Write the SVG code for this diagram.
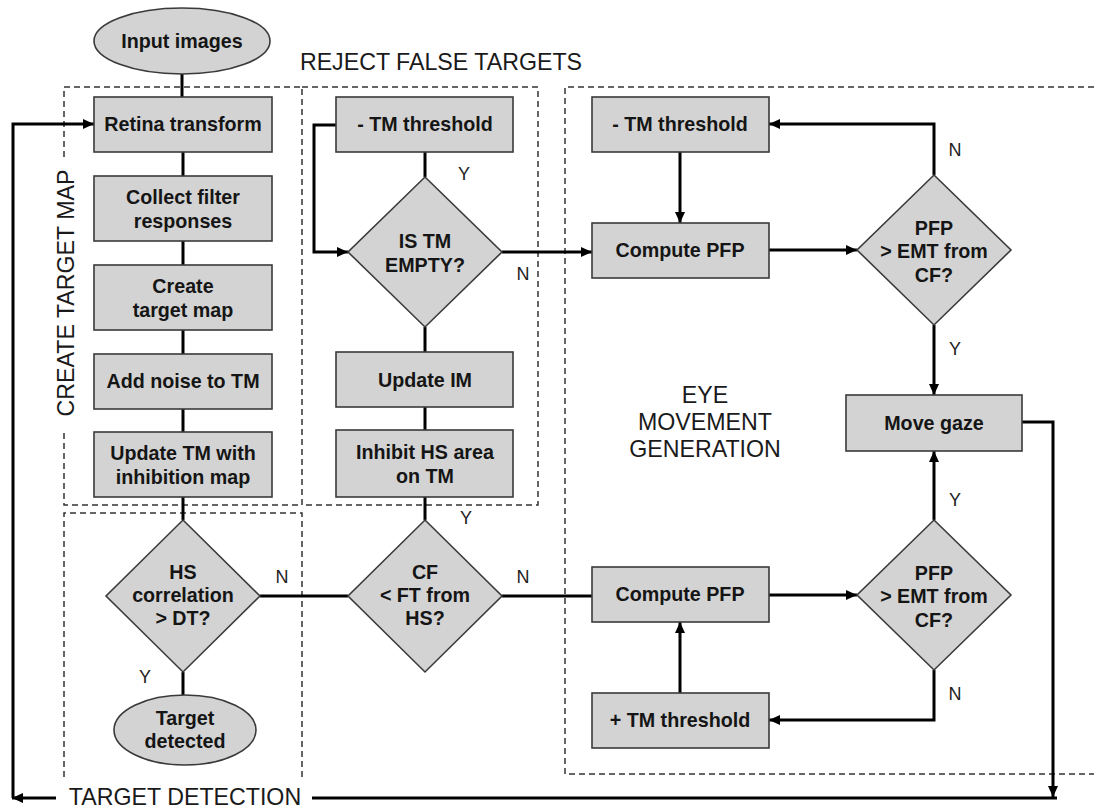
<svg xmlns="http://www.w3.org/2000/svg" width="1094" height="808" viewBox="0 0 1094 808">
<style>
.box{fill:#d3d3d3;stroke:#3a3a3a;stroke-width:1.6}
.t{font-family:"Liberation Sans",Arial,sans-serif;font-weight:bold;font-size:19.7px;fill:#151515;text-anchor:middle}
.yn{font-family:"Liberation Sans",Arial,sans-serif;font-size:18px;fill:#222;text-anchor:middle}
.sec{font-family:"Liberation Sans",Arial,sans-serif;font-size:23.2px;fill:#1a1a1a;text-anchor:middle}
.dash{fill:none;stroke:#333;stroke-width:1.5;stroke-dasharray:6 4}
.c{fill:none;stroke:#000;stroke-width:3}
.ca{fill:none;stroke:#000;stroke-width:3;marker-end:url(#ah)}
</style>
<defs>
<marker id="ah" markerUnits="userSpaceOnUse" markerWidth="12" markerHeight="10" refX="11" refY="5" orient="auto">
<path d="M0,0 L11,5 L0,10 z" fill="#000"/>
</marker>
</defs>

<g id="sections">
<path class="dash" d="M64,157 V87 H302 V505 H64 V430"/>
<path class="dash" d="M302,87 H538 V505 H302"/>
<path class="dash" d="M64,777 V513 H302 V777"/>
<path class="dash" d="M1094,87 H565 V774 H1094"/>
<text class="sec" x="441" y="70">REJECT FALSE TARGETS</text>
<text class="sec" transform="translate(74,293) rotate(-90)">CREATE TARGET MAP</text>
<text class="sec" x="705" y="403">EYE</text>
<text class="sec" x="705" y="430">MOVEMENT</text>
<text class="sec" x="705" y="457">GENERATION</text>
<text class="sec" x="185" y="805">TARGET DETECTION</text>
</g>

<g id="connectors">
<path class="c" d="M182,74 V97"/>
<path class="c" d="M183,152 V176"/>
<path class="c" d="M183,241 V265"/>
<path class="c" d="M183,330 V354"/>
<path class="c" d="M183,409 V432"/>
<path class="c" d="M183,497 V520"/>
<path class="c" d="M183,672 V695"/>
<path class="c" d="M260,596 H348"/>
<path class="c" d="M425,152 V177"/>
<path class="ca" d="M336,125 H314 V252 H348"/>
<path class="c" d="M425,327 V352"/>
<path class="c" d="M425,407 V430"/>
<path class="c" d="M425,497 V520"/>
<path class="ca" d="M502,252 H592"/>
<path class="ca" d="M680,152 V223"/>
<path class="ca" d="M769,250 H857"/>
<path class="ca" d="M934,175 V124 H769"/>
<path class="ca" d="M934,325 V395"/>
<path class="c" d="M502,596 H592"/>
<path class="ca" d="M769,595 H857"/>
<path class="ca" d="M934,520 V451"/>
<path class="ca" d="M934,670 V720 H769"/>
<path class="ca" d="M680,693 V622"/>
<path class="ca" d="M1022,422 H1053 V797"/>
<path class="c" d="M1057,798 H312"/>
<path class="ca" d="M56,798 H12"/>
<path class="ca" d="M13,798 V124 H94"/>
<text class="yn" x="464" y="180">Y</text>
<text class="yn" x="523" y="280">N</text>
<text class="yn" x="955" y="156">N</text>
<text class="yn" x="955" y="355">Y</text>
<text class="yn" x="145" y="683">Y</text>
<text class="yn" x="282" y="583">N</text>
<text class="yn" x="466" y="524">Y</text>
<text class="yn" x="523" y="583">N</text>
<text class="yn" x="955" y="506">Y</text>
<text class="yn" x="955" y="700">N</text>
</g>

<g id="input"><ellipse class="box" cx="182" cy="41" rx="88" ry="33"/><text class="t" x="182" y="48">Input images</text></g>
<g id="retina"><rect class="box" x="94" y="97" width="178" height="55"/><text class="t" x="183" y="131">Retina transform</text></g>
<g id="collect"><rect class="box" x="94" y="176" width="178" height="65"/><text class="t" x="183" y="204">Collect filter</text><text class="t" x="183" y="228">responses</text></g>
<g id="create"><rect class="box" x="94" y="265" width="178" height="65"/><text class="t" x="183" y="293">Create</text><text class="t" x="183" y="317">target map</text></g>
<g id="noise"><rect class="box" x="94" y="354" width="178" height="55"/><text class="t" x="183" y="388">Add noise to TM</text></g>
<g id="updatetm"><rect class="box" x="94" y="432" width="178" height="65"/><text class="t" x="183" y="460">Update TM with</text><text class="t" x="183" y="484">inhibition map</text></g>
<g id="hscorr"><polygon class="box" points="183,520 260,596 183,672 106,596"/><text class="t" x="183" y="579">HS</text><text class="t" x="183" y="602">correlation</text><text class="t" x="183" y="625">&gt; DT?</text></g>
<g id="detected"><ellipse class="box" cx="185" cy="730" rx="71" ry="35"/><text class="t" x="185" y="725">Target</text><text class="t" x="185" y="748">detected</text></g>

<g id="rthreshold"><rect class="box" x="336" y="97" width="177" height="55"/><text class="t" x="425" y="131">- TM threshold</text></g>
<g id="tmempty"><polygon class="box" points="425,177 502,252 425,327 348,252"/><text class="t" x="425" y="248">IS TM</text><text class="t" x="425" y="272">EMPTY?</text></g>
<g id="updateim"><rect class="box" x="336" y="352" width="177" height="55"/><text class="t" x="425" y="387">Update IM</text></g>
<g id="inhibit"><rect class="box" x="336" y="430" width="177" height="67"/><text class="t" x="425" y="459">Inhibit HS area</text><text class="t" x="425" y="483">on TM</text></g>
<g id="cf"><polygon class="box" points="425,520 502,596 425,672 348,596"/><text class="t" x="425" y="579">CF</text><text class="t" x="425" y="602">&lt; FT from</text><text class="t" x="425" y="625">HS?</text></g>

<g id="ethreshold"><rect class="box" x="592" y="97" width="177" height="55"/><text class="t" x="680" y="131">- TM threshold</text></g>
<g id="pfp1"><rect class="box" x="592" y="223" width="177" height="55"/><text class="t" x="680" y="257">Compute PFP</text></g>
<g id="emt1"><polygon class="box" points="934,175 1011,250 934,325 857,250"/><text class="t" x="934" y="235">PFP</text><text class="t" x="934" y="258">&gt; EMT from</text><text class="t" x="934" y="282">CF?</text></g>
<g id="gaze"><rect class="box" x="846" y="395" width="176" height="56"/><text class="t" x="934" y="430">Move gaze</text></g>
<g id="pfp2"><rect class="box" x="592" y="567" width="177" height="55"/><text class="t" x="680" y="601">Compute PFP</text></g>
<g id="emt2"><polygon class="box" points="934,520 1011,595 934,670 857,595"/><text class="t" x="934" y="580">PFP</text><text class="t" x="934" y="603">&gt; EMT from</text><text class="t" x="934" y="627">CF?</text></g>
<g id="pthreshold"><rect class="box" x="592" y="693" width="177" height="55"/><text class="t" x="680" y="727">+ TM threshold</text></g>
</svg>
